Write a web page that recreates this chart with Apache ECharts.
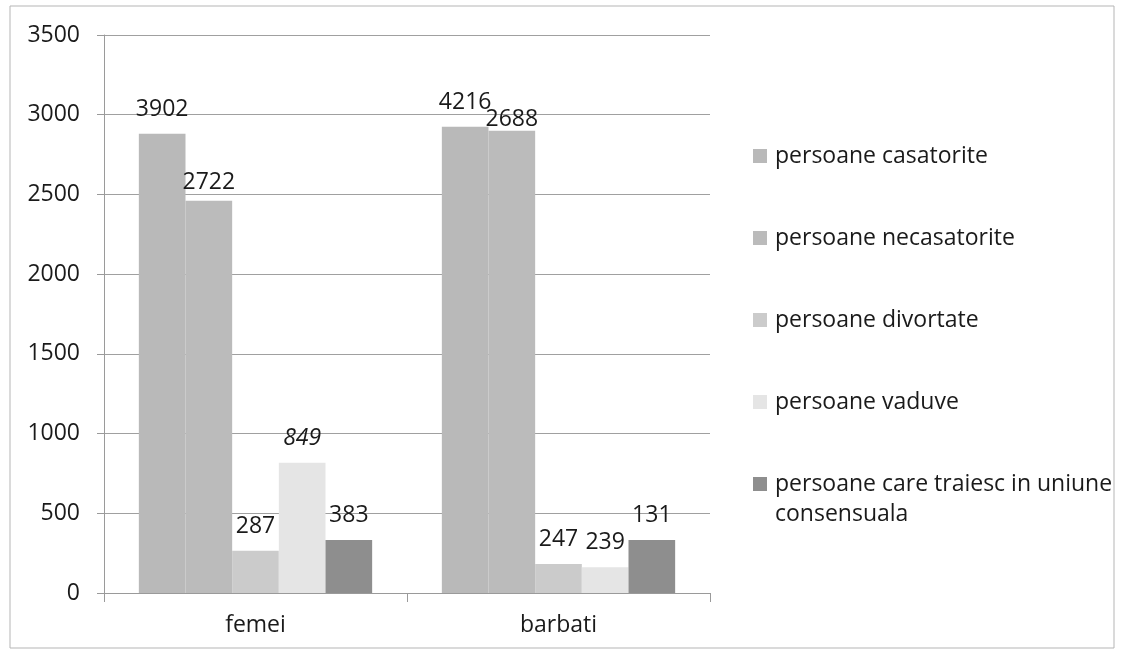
<!DOCTYPE html>
<html>
<head>
<meta charset="utf-8">
<script src="https://cdn.jsdelivr.net/npm/echarts@6/dist/echarts.min.js"></script>
<style>html,body{margin:0;padding:0;background:#fff;}#c{width:1139px;height:658px;}</style>
</head>
<body>
<div id="c"></div>
<script>
// Categories
const categories = ['femei', 'barbati'];
// Series names
const seriesNames = ['persoane casatorite', 'persoane necasatorite', 'persoane divortate', 'persoane vaduve', 'persoane care traiesc in uniune consensuala'];
// Bar heights as drawn in the picture
const casatoriteVals = [2880, 2925];
const necasatoriteVals = [2460, 2900];
const divortateVals = [265, 182];
const vaduveVals = [817, 161];
const consensualVals = [332, 332];
// Data labels as printed in the picture
const casatoriteLbl = ['3902', '4216'];
const necasatoriteLbl = ['2722', '2688'];
const divortateLbl = ['287', '247'];
const vaduveLbl = ['849', '239'];
const consensualLbl = ['383', '131'];
// Y axis ticks
const yTicks = [0, 500, 1000, 1500, 2000, 2500, 3000, 3500];

const values = [casatoriteVals, necasatoriteVals, divortateVals, vaduveVals, consensualVals];
const labels = [casatoriteLbl, necasatoriteLbl, divortateLbl, vaduveLbl, consensualLbl];
const colors = ['#b9b9b9', '#bbbbbb', '#cbcbcb', '#e5e5e5', '#8e8e8e'];
const FONT = 'Open Sans';
const FS = 23;

const series = values.map((vals, si) => ({
  name: seriesNames[si],
  type: 'bar',
  barGap: '0%',
  barCategoryGap: '23%',
  itemStyle: { color: colors[si] },
  label: {
    show: true,
    position: 'top',
    distance: 13,
    color: '#1a1a1a',
    fontFamily: FONT,
    fontSize: FS,
    formatter: p => labels[p.seriesIndex][p.dataIndex]
  },
  data: vals.map((v, di) => {
    const item = { value: v };
    if (si === 3 && di === 0) item.label = { fontStyle: 'italic' };
    if (si === 1 && di === 0) item.label = { distance: 7 };
    if (si === 1 && di === 1) item.label = { distance: 0 };
    return item;
  })
}));

const chart = echarts.init(document.getElementById('c'));
chart.setOption({
  animation: false,
  backgroundColor: '#fff',
  textStyle: { fontFamily: FONT },
  grid: { left: 104, right: 429, top: 35, bottom: 65 },
  xAxis: {
    type: 'category',
    data: categories,
    axisLine: { lineStyle: { color: '#9a9a9a', width: 1 } },
    axisTick: { show: true, length: 9, lineStyle: { color: '#9a9a9a' } },
    axisLabel: { margin: 21, color: '#1a1a1a', fontFamily: FONT, fontSize: FS }
  },
  yAxis: {
    type: 'value',
    min: yTicks[0],
    max: yTicks[yTicks.length - 1],
    interval: yTicks[1] - yTicks[0],
    axisLine: { show: true, lineStyle: { color: '#9a9a9a', width: 1 } },
    axisTick: { show: true, length: 7, lineStyle: { color: '#9a9a9a' } },
    axisLabel: { margin: 24, color: '#1a1a1a', fontFamily: FONT, fontSize: FS, formatter: v => String(v) },
    splitLine: { lineStyle: { color: '#a0a0a0', width: 1 } }
  },
  legend: {
    orient: 'vertical',
    left: 753,
    top: 140,
    padding: 0,
    itemWidth: 14,
    itemHeight: 14,
    itemGap: 50,
    icon: 'rect',
    data: seriesNames,
    formatter: name => name === seriesNames[4] ? 'persoane care traiesc in uniune' : name,
    textStyle: { fontFamily: FONT, fontSize: FS, color: '#1a1a1a', lineHeight: 32, padding: [0, 0, 0, 3] }
  },
  graphic: [
    {
      type: 'rect',
      shape: { x: 10, y: 6, width: 1104, height: 642 },
      style: { fill: 'none', stroke: '#b5b5b5', lineWidth: 1 },
      silent: true,
      z: -1
    },
    {
      type: 'text',
      left: 775,
      top: 503,
      style: { text: 'consensuala', fontFamily: FONT, fontSize: FS, fill: '#1a1a1a' }
    }
  ],
  series: series
});
</script>
</body>
</html>
